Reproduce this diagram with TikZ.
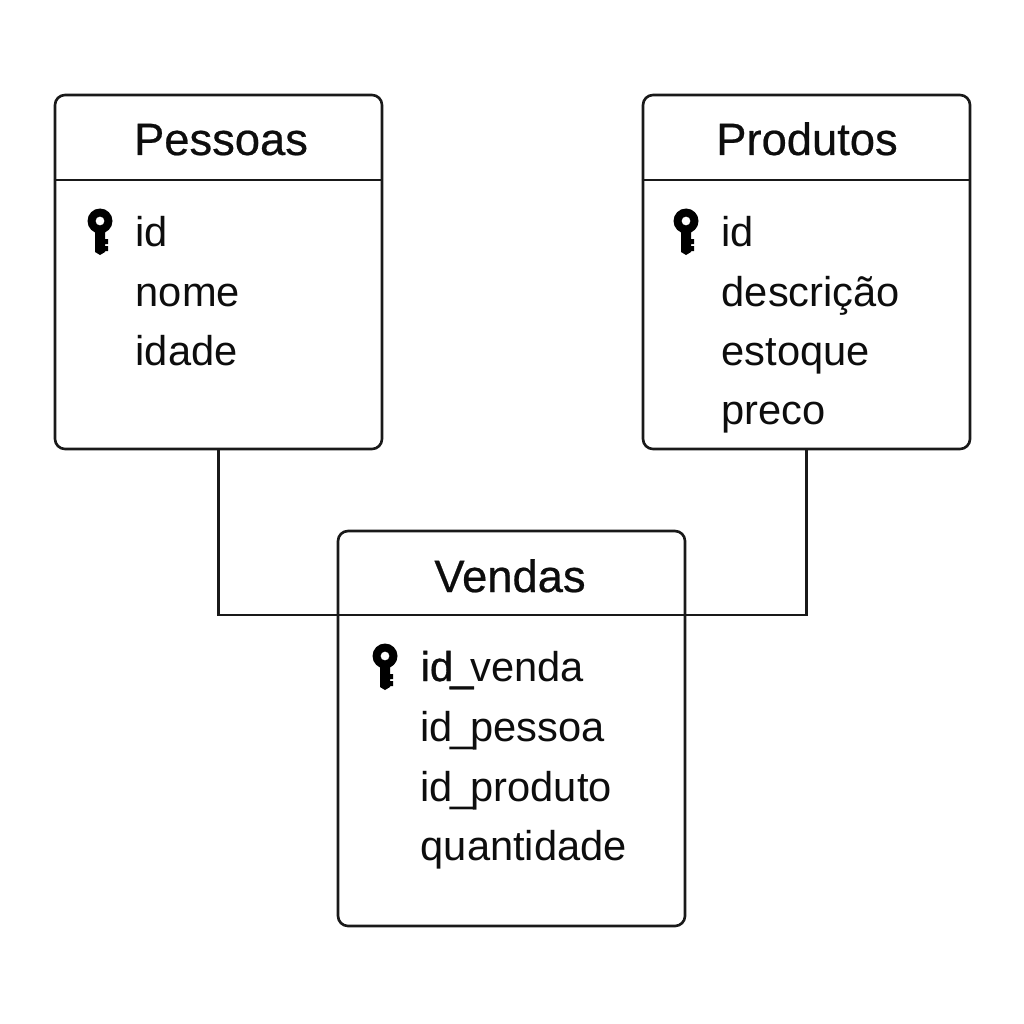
\documentclass[tikz,border=0pt]{standalone}
\usepackage{fontspec}
\setmainfont{Liberation Sans}
\newfontfamily\titlefont[FakeBold=0.5]{Liberation Sans}
\newfontfamily\keyfont[FakeBold=0.9]{Liberation Sans}
\usepackage{tikz}
\def\sublinha{\kern-0.8pt\_\kern-0.8pt}
\tikzset{
	tabela/.style={draw=black!90, line width=0.75pt, rounded corners=1mm, minimum width=3.27cm, inner sep=0pt},
	titulo/.style={anchor=base, font=\titlefont\fontsize{12.9}{15}\selectfont, text=black!95, inner sep=0pt},
	campo/.style={anchor=base west, font=\fontsize{11.85}{14}\selectfont, text=black!95, inner sep=0pt},
	linha/.style={draw=black!90, line width=0.75pt},
	keyicon/.pic={
		\fill[black, even odd rule] (0,0) circle (12.5) (0,0) circle (4.5);
		\fill[black] (-5,9) -- (5,9) -- (5,18) -- (8,18) -- (8,23) -- (5,23) -- (5,25) -- (8,25) -- (8,30) -- (5,30) -- (5,31) -- (0,34) -- (-5,31) -- cycle;
	}
}

\begin{document}
\begin{tikzpicture}[x=0.1mm, y=-0.1mm]
		\useasboundingbox (0,0) rectangle (1024,1024);
		
		\node[tabela, minimum height=3.54cm] (pessoas) at (218.5,272) {};
		\node[tabela, minimum height=3.54cm] (produtos) at (806.5,272) {};
		\node[tabela, minimum width=3.47cm, minimum height=3.95cm] (vendas) at (511.5,728.5) {};
		
		\coordinate (pessoasHead) at (218.5,180);
		\coordinate (produtosHead) at (806.5,180);
		\coordinate (vendasHead) at (511.5,615);
		
		\draw [linha] (pessoas.west |- pessoasHead) -- (pessoas.east |- pessoasHead);
		\draw [linha] (produtos.west |- produtosHead) -- (produtos.east |- produtosHead);
		\draw [linha] (pessoas.south) |- (vendasHead) -| (produtos.south);
		
		\node[titulo] (tituloPessoas) at (221,155) {Pessoas};
		\pic at (100,221) {keyicon};
		\node[campo] (pessoasId) at (135,247) {id};
		\node[campo] (pessoasNome) at (135,306) {nome};
		\node[campo] (pessoasIdade) at (135,365) {idade};
		
		\node[titulo] (tituloProdutos) at (807,155) {Produtos};
		\pic at (686,221) {keyicon};
		\node[campo] (produtosId) at (721,247) {id};
		\node[campo] (produtosDescricao) at (721,306) {descrição};
		\node[campo] (produtosEstoque) at (721,365) {estoque};
		\node[campo] (produtosPreco) at (721,424) {preco};
		
		\node[titulo] (tituloVendas) at (510,592) {Vendas};
		\pic at (385,656) {keyicon};
		\node[campo] (vendasId) at (420,681) {{\keyfont id\sublinha}venda};
		\node[campo] (vendasPessoa) at (420,741) {id\sublinha pessoa};
		\node[campo] (vendasProduto) at (420,801) {id\sublinha produto};
		\node[campo] (vendasQuantidade) at (420,860) {quantidade};
	\end{tikzpicture}
\end{document}
